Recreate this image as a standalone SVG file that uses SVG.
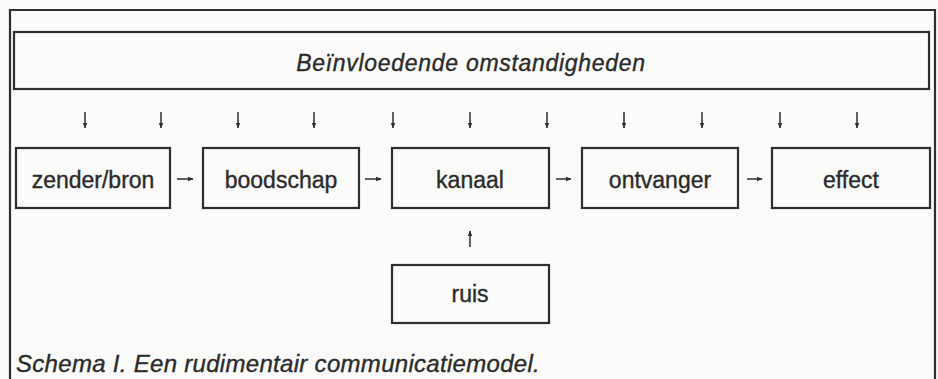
<svg xmlns="http://www.w3.org/2000/svg" width="938" height="379" viewBox="0 0 938 379">
<defs>
<style>
.box{fill:none;stroke:#2e2e2e;stroke-width:2.2}
.lbl{font-family:"Liberation Sans",Arial,sans-serif;font-size:23px;fill:#2a2a2a;stroke:#2a2a2a;stroke-width:0.35;text-anchor:middle}
.it{font-family:"Liberation Sans",Arial,sans-serif;font-style:italic;fill:#2a2a2a;stroke:#2a2a2a;stroke-width:0.35}
.arr{stroke:#2e2e2e;stroke-width:1.5;fill:none;marker-end:url(#ah)}
</style>
<marker id="ah" viewBox="0 0 10 10" refX="9" refY="5" markerWidth="5.5" markerHeight="5.5" orient="auto" markerUnits="userSpaceOnUse">
<path d="M0,1 L10,5 L0,9 Z" fill="#2e2e2e"/>
</marker>
</defs>
<rect width="938" height="379" fill="#fbfbfa"/>
<g id="frame">
<polyline points="10,379 10,10 935,10 935,379" class="box"/>
</g>
<g id="banner">
<rect x="14" y="32" width="915" height="57" class="box"/>
<text x="471" y="71" class="it" font-size="23" letter-spacing="0.7" text-anchor="middle">Beïnvloedende omstandigheden</text>
</g>
<g id="zender">
<rect x="16" y="148" width="154" height="60" class="box"/>
<text x="93" y="188" class="lbl">zender/bron</text>
</g>
<g id="boodschap">
<rect x="203" y="148" width="156" height="60" class="box"/>
<text x="281" y="188" class="lbl">boodschap</text>
</g>
<g id="kanaal">
<rect x="392" y="148" width="157" height="60" class="box"/>
<text x="470" y="188" class="lbl">kanaal</text>
</g>
<g id="ontvanger">
<rect x="582" y="148" width="156" height="60" class="box"/>
<text x="660" y="188" class="lbl">ontvanger</text>
</g>
<g id="effect">
<rect x="772" y="148" width="158" height="60" class="box"/>
<text x="851" y="188" class="lbl">effect</text>
</g>
<g id="ruis">
<rect x="392" y="265" width="157" height="58" class="box"/>
<text x="470" y="302" class="lbl">ruis</text>
</g>
<g id="connectors">
<line x1="85" y1="112" x2="85" y2="128" class="arr"/>
<line x1="161" y1="112" x2="161" y2="128" class="arr"/>
<line x1="238" y1="112" x2="238" y2="128" class="arr"/>
<line x1="314" y1="112" x2="314" y2="128" class="arr"/>
<line x1="393" y1="112" x2="393" y2="128" class="arr"/>
<line x1="470" y1="112" x2="470" y2="128" class="arr"/>
<line x1="547" y1="112" x2="547" y2="128" class="arr"/>
<line x1="624" y1="112" x2="624" y2="128" class="arr"/>
<line x1="702" y1="112" x2="702" y2="128" class="arr"/>
<line x1="780" y1="112" x2="780" y2="128" class="arr"/>
<line x1="857" y1="112" x2="857" y2="128" class="arr"/>
<line x1="177" y1="179" x2="193" y2="179" class="arr"/>
<line x1="365" y1="179" x2="381" y2="179" class="arr"/>
<line x1="556" y1="179" x2="571" y2="179" class="arr"/>
<line x1="747" y1="179" x2="762" y2="179" class="arr"/>
<line x1="470" y1="247" x2="470" y2="231" class="arr"/>
</g>
<text x="16" y="372" class="it" font-size="24" letter-spacing="0.3">Schema I. Een rudimentair communicatiemodel.</text>
</svg>
